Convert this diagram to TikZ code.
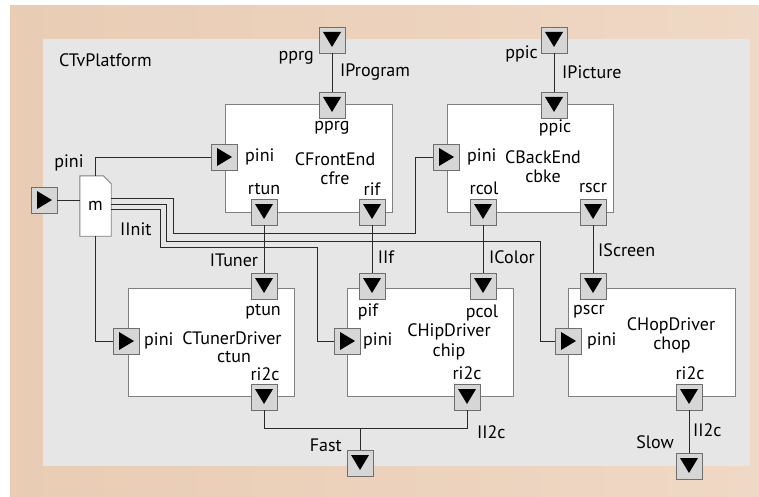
\documentclass[tikz,border=0pt]{standalone}
\usepackage{fontspec}
\setmainfont{PT Sans}
\usetikzlibrary{calc}
\definecolor{peachL}{HTML}{E9CCB4}
\definecolor{peachM}{HTML}{F9F2EB}
\definecolor{peachR}{HTML}{EFD8C5}
\definecolor{platgray}{HTML}{E6E6E6}
\definecolor{portfill}{HTML}{D6D6D6}
\definecolor{portdraw}{HTML}{6E6E6E}
\definecolor{boxdraw}{HTML}{808080}
\definecolor{wire}{HTML}{2A2A2A}
\tikzset{
  x=1pt, y=-1pt,
  every node/.style={font=\fontsize{18}{20}\selectfont, inner sep=0pt},
  port/.style={draw=portdraw, fill=portfill, minimum size=26pt, inner sep=0pt, line width=0.9pt},
  pdown/.style={port, path picture={\fill[black] ([shift={(-9,-8)}]path picture bounding box.center) -- ++(18,0) -- ++(-9,15) -- cycle;}},
  pright/.style={port, path picture={\fill[black] ([shift={(-7,-9)}]path picture bounding box.center) -- ++(0,18) -- ++(15,-9) -- cycle;}},
  comp/.style={draw=boxdraw, fill=white, line width=0.9pt, inner sep=0pt},
  wireline/.style={draw=wire, line width=0.9pt},
  lbl/.style={text=black}
}
\begin{document}
\begin{tikzpicture}
\useasboundingbox (0,0) rectangle (759,497);
\fill[white] (0,0) rectangle (759,497);
\shade[left color=peachL, middle color=peachM, right color=peachR] (10,6) rectangle (759,497);
% platform
\fill[platgray] (43,39) rectangle (750,466);
\node[lbl, anchor=west] (tvlabel) at (59,60) {CTvPlatform};

% components
\node[comp, minimum width=167pt, minimum height=108pt] (cfre) at (308.5,158) {};
\node[comp, minimum width=166pt, minimum height=108pt] (cbke) at (530,158) {};
\node[comp, minimum width=166pt, minimum height=108pt] (ctun) at (211,342) {};
\node[comp, minimum width=166pt, minimum height=108pt] (chip) at (430,342) {};
\node[comp, minimum width=167pt, minimum height=108pt] (chop) at (651.5,342) {};

% m node (dog-ear)
\node[minimum width=31pt, minimum height=60pt] (m) at (95.5,206) {};
\filldraw[fill=white, draw=boxdraw, line width=0.9pt] (m.south west) -- (m.north west) -- ($(m.north east)+(-8,0)$) -- ($(m.north east)+(0,8)$) -- (m.south east) -- cycle;
\node (mtext) at (m.center) {m};

% ports
\node[pdown] (extpprg) at (332,40) {};
\node[pdown] (cfrepprg) at (332,105) {};
\node[pright] (cfrepini) at (224,157) {};
\node[pdown] (cfrertun) at (264,212) {};
\node[pdown] (cfrerif) at (372,212) {};
\node[pdown] (extppic) at (554,40) {};
\node[pdown] (cbkeppic) at (554,105) {};
\node[pright] (cbkepini) at (446,157) {};
\node[pdown] (cbkercol) at (483,212) {};
\node[pdown] (cbkerscr) at (593,212) {};
\node[pright] (extpini) at (44,200) {};
\node[pdown] (ctunptun) at (264,286) {};
\node[pright] (ctunpini) at (126,341) {};
\node[pdown] (ctunri2c) at (264,397) {};
\node[pdown] (chippif) at (372,286) {};
\node[pdown] (chippcol) at (483,286) {};
\node[pright] (chippini) at (347,341) {};
\node[pdown] (chipri2c) at (467,397) {};
\node[pdown] (choppscr) at (593,286) {};
\node[pright] (choppini) at (568,341) {};
\node[pdown] (chopri2c) at (689,397) {};
\node[pdown] (fast) at (360,463) {};
\node[pdown] (slow) at (689,466) {};

% bend coordinates
\coordinate (ma) at (111,198);
\coordinate (mb) at (111,204);
\coordinate (mc) at (111,209);
\coordinate (a1) at (173,198);
\coordinate (a2) at (173,233);
\coordinate (a3) at (415,233);
\coordinate (b1) at (166,204);
\coordinate (b2) at (166,241);
\coordinate (b3) at (540,241);
\coordinate (c1) at (160,209);
\coordinate (c2) at (160,247);
\coordinate (c3) at (317,247);
\coordinate (f1) at (264,428);
\coordinate (f2) at (467,428);
\coordinate (fj) at (360,428);

% connectors
\draw[wireline] (extpprg.south) -- (cfrepprg.north);
\draw[wireline] (extppic.south) -- (cbkeppic.north);
\draw[wireline] (extpini.east) -- (m.west |- extpini.east);
\draw[wireline] (m.north) |- (cfrepini.west);
\draw[wireline] (ma) -- (a1) -- (a2) -- (a3) |- (cbkepini.west);
\draw[wireline] (mb) -- (b1) -- (b2) -- (b3) |- (choppini.west);
\draw[wireline] (mc) -- (c1) -- (c2) -- (c3) |- (chippini.west);
\draw[wireline] (m.south) |- (ctunpini.west);
\draw[wireline] (cfrertun.south) -- (ctunptun.north);
\draw[wireline] (cfrerif.south) -- (chippif.north);
\draw[wireline] (cbkercol.south) -- (chippcol.north);
\draw[wireline] (cbkerscr.south) -- (choppscr.north);
\draw[wireline] (ctunri2c.south) -- (f1) -- (f2) -- (chipri2c.south);
\draw[wireline] (fj) -- (fast.north);
\draw[wireline] (chopri2c.south) -- (slow.north);

% labels
\node[anchor=east] (lpprgx) at (314,58) {pprg};
\node[anchor=west] (liprog) at (340,72) {IProgram};
\node[anchor=east] (lppicx) at (538,54) {ppic};
\node[anchor=west] (lipic) at (562,72) {IPicture};
\node (lpprg) at (332,128) {pprg};
\node[anchor=west] (lcfrepini) at (245,157) {pini};
\node (lcfre1) at (335,159) {CFrontEnd};
\node (lcfre2) at (335,178) {cfre};
\node (lrtun) at (264,189) {rtun};
\node (lrif) at (372,189) {rif};
\node (lppic) at (555,128) {ppic};
\node[anchor=west] (lcbkepini) at (467,157) {pini};
\node (lcbke1) at (543,157) {CBackEnd};
\node (lcbke2) at (543,176) {cbke};
\node (lrcol) at (484,188) {rcol};
\node (lrscr) at (593,188) {rscr};
\node (lpinix) at (69,163) {pini};
\node[anchor=west] (liinit) at (120,229) {IInit};
\node (lituner) at (234,260) {ITuner};
\node (liif) at (386,257) {IIf};
\node (licolor) at (512,257) {IColor};
\node[anchor=west] (liscreen) at (598,250) {IScreen};
\node[anchor=east] (lptun) at (281,312) {ptun};
\node[anchor=west] (lctunpini) at (144,341) {pini};
\node (lctun1) at (232,338) {CTunerDriver};
\node (lctun2) at (234,357) {ctun};
\node (lctunri2c) at (265,374) {ri2c};
\node (lpif) at (368,312) {pif};
\node[anchor=west] (lchippini) at (363,341) {pini};
\node (lchip1) at (449,332) {CHipDriver};
\node (lchip2) at (449,352) {chip};
\node (lpcol) at (482,313) {pcol};
\node (lchipri2c) at (467,373) {ri2c};
\node (lpscr) at (589,312) {pscr};
\node[anchor=west] (lchoppini) at (587,341) {pini};
\node (lchop1) at (671,326) {CHopDriver};
\node (lchop2) at (672,345) {chop};
\node (lchopri2c) at (690,373) {ri2c};
\node[anchor=east] (lfast) at (342,445) {Fast};
\node[anchor=west] (lii2ca) at (477,432) {II2c};
\node (lslow) at (655,442) {Slow};
\node[anchor=west] (lii2cb) at (693,430) {II2c};
\end{tikzpicture}
\end{document}
